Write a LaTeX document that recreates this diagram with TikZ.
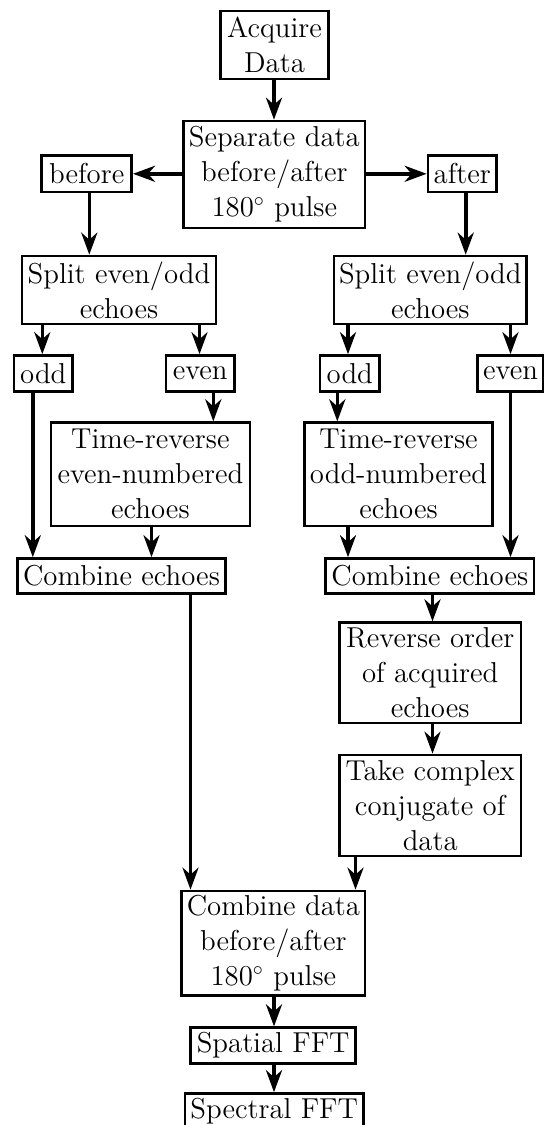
\documentclass[tikz,border=0pt]{standalone}
\usetikzlibrary{arrows.meta}
\newdimen\pxu \pxu=0.5pt
\begin{document}
\begin{tikzpicture}[x=0.5pt,y=-0.5pt,
 bx/.style 2 args={draw, line width=1.3pt, minimum width=#1\pxu, minimum height=#2\pxu, inner sep=0pt, align=center, font=\fontsize{14.4}{17.5}\selectfont},
 arr/.style={line width=1.8pt, -{Stealth[length=11pt,width=8pt,inset=3.5pt]}}]
\useasboundingbox (0,0) rectangle (544,1125);
\clip (0,0) rectangle (544,1125);

\node[bx={107.6}{68}] (acq) at (274.5,45) {Acquire\\Data};
\node[bx={181.7}{107}] (sep) at (274.3,174.5) {Separate data\\before/after\\180$^\circ$ pulse};
\node[bx={90}{36.3}] (bef) at (86.7,173.8) {before};
\node[bx={68.7}{36.3}] (aft) at (462.3,173.8) {after};
\node[bx={194.3}{68}] (splL) at (119,290) {Split even/odd\\echoes};
\node[bx={192.3}{68}] (splR) at (430.3,290) {Split even/odd\\echoes};
\node[bx={58.7}{36.2}] (oddL) at (43.3,373.6) {odd};
\node[bx={68.3}{36.2}] (evenL) at (200.2,373.6) {even};
\node[bx={59.7}{36.2}] (oddR) at (349.8,373.6) {odd};
\node[bx={66}{36.2}] (evenR) at (510.5,373.6) {even};
\node[bx={198.8}{103.3}] (trL) at (150.4,474.3) {Time-reverse\\even-numbered\\echoes};
\node[bx={188.4}{103.3}] (trR) at (398.5,474.3) {Time-reverse\\odd-numbered\\echoes};
\node[bx={208.4}{35}] (cmbL) at (121.5,576) {Combine echoes};
\node[bx={208.3}{35}] (cmbR) at (429.8,576) {Combine echoes};
\node[bx={181.9}{100.3}] (rev) at (430.2,672.8) {Reverse order\\of acquired\\echoes};
\node[bx={181.9}{101}] (take) at (430.2,805.5) {Take complex\\conjugate of\\data};
\node[bx={183.3}{104.7}] (cdat) at (273.4,943.3) {Combine data\\before/after\\180$^\circ$ pulse};
\node[bx={165}{35.6}] (spat) at (273.2,1045.5) {Spatial FFT};
\node[bx={178.3}{35.6}] (spec) at (274.2,1111.3) {Spectral FFT};

\coordinate (x1) at (89.3,0);
\coordinate (x2) at (465.7,0);
\coordinate (x3) at (213.3,0);
\coordinate (x4) at (32.8,0);
\coordinate (x5) at (190.5,0);
\coordinate (x6) at (348,0);
\coordinate (x7) at (510.5,0);
\coordinate (x8) at (337.3,0);
\coordinate (x9) at (432.5,0);
\coordinate (x10) at (355.5,0);
\coordinate (x11) at (274,0);
\coordinate (x12) at (42.3,0);
\coordinate (x13) at (199.5,0);
\coordinate (x14) at (151.5,0);

\draw[arr] (x11 |- acq.south) -- (x11 |- sep.north);
\draw[arr] (sep.west |- bef) -- (bef.east);
\draw[arr] (sep.east |- aft) -- (aft.west);
\draw[arr] (x1 |- bef.south) -- (x1 |- splL.north);
\draw[arr] (x2 |- aft.south) -- (x2 |- splR.north);
\draw[arr] (x12 |- splL.south) -- (x12 |- oddL.north);
\draw[arr] (x13 |- splL.south) -- (x13 |- evenL.north);
\draw[arr] (x3 |- evenL.south) -- (x3 |- trL.north);
\draw[arr] (x4 |- oddL.south) -- (x4 |- cmbL.north);
\draw[arr] (x14 |- trL.south) -- (x14 |- cmbL.north);
\draw[arr] (x5 |- cmbL.south) -- (x5 |- cdat.north);
\draw[arr] (x6 |- splR.south) -- (x6 |- oddR.north);
\draw[arr] (x7 |- splR.south) -- (x7 |- evenR.north);
\draw[arr] (x8 |- oddR.south) -- (x8 |- trR.north);
\draw[arr] (x6 |- trR.south) -- (x6 |- cmbR.north);
\draw[arr] (x7 |- evenR.south) -- (x7 |- cmbR.north);
\draw[arr] (x9 |- cmbR.south) -- (x9 |- rev.north);
\draw[arr] (x9 |- rev.south) -- (x9 |- take.north);
\draw[arr] (x10 |- take.south) -- (x10 |- cdat.north);
\draw[arr] (x11 |- cdat.south) -- (x11 |- spat.north);
\draw[arr] (x11 |- spat.south) -- (x11 |- spec.north);
\end{tikzpicture}
\end{document}
